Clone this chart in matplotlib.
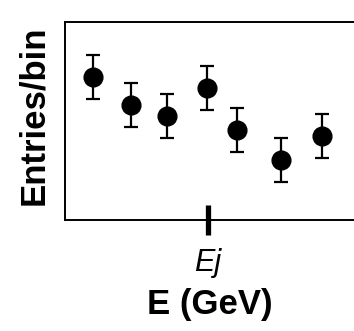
import matplotlib
matplotlib.use('Agg')
import matplotlib.pyplot as plt

plt.rcParams['font.family'] = ['Liberation Sans', 'DejaVu Sans']

# energy bins (arbitrary units) and entries per bin
energy = [0.71, 1.66, 2.56, 3.56, 4.31, 5.39, 6.42]
entries = [7.20, 5.80, 5.24, 6.66, 4.53, 3.01, 4.23]
errors = [1.12, 1.12, 1.12, 1.12, 1.12, 1.12, 1.12]
tick_pos = [3.57]
tick_labels = ['Ej']

fig = plt.figure(figsize=(3.54, 3.31), dpi=100)
ax = fig.add_axes([65/354, 111.5/331, 289/354, 197.5/331])

ax.errorbar(energy, entries, yerr=errors, fmt='o', color='black',
            markersize=13.5, elinewidth=1.6, capsize=5, capthick=1.6)

ax.set_xlim(0, 7.225)
ax.set_ylim(0, 10)
ax.set_yticks([])
ax.set_xticks(tick_pos)
ax.set_xticklabels(tick_labels, fontsize=22, style='italic')
ax.tick_params(axis='x', direction='inout', length=21.6, width=3.8, pad=10)

for side in ['left', 'top', 'bottom']:
    ax.spines[side].set_linewidth(1.4)
ax.spines['right'].set_visible(False)

ax.set_xlabel('E (GeV)', fontsize=25, fontweight='bold', va='baseline')
ax.xaxis.set_label_coords(0.5, (219.5 - 314) / 197.5)
ax.set_ylabel('Entries/bin', fontsize=25, fontweight='bold', va='center')
ax.yaxis.set_label_coords((34 - 65) / 289, (219.5 - 115) / 197.5)

fig.savefig('out.png', dpi=100)
